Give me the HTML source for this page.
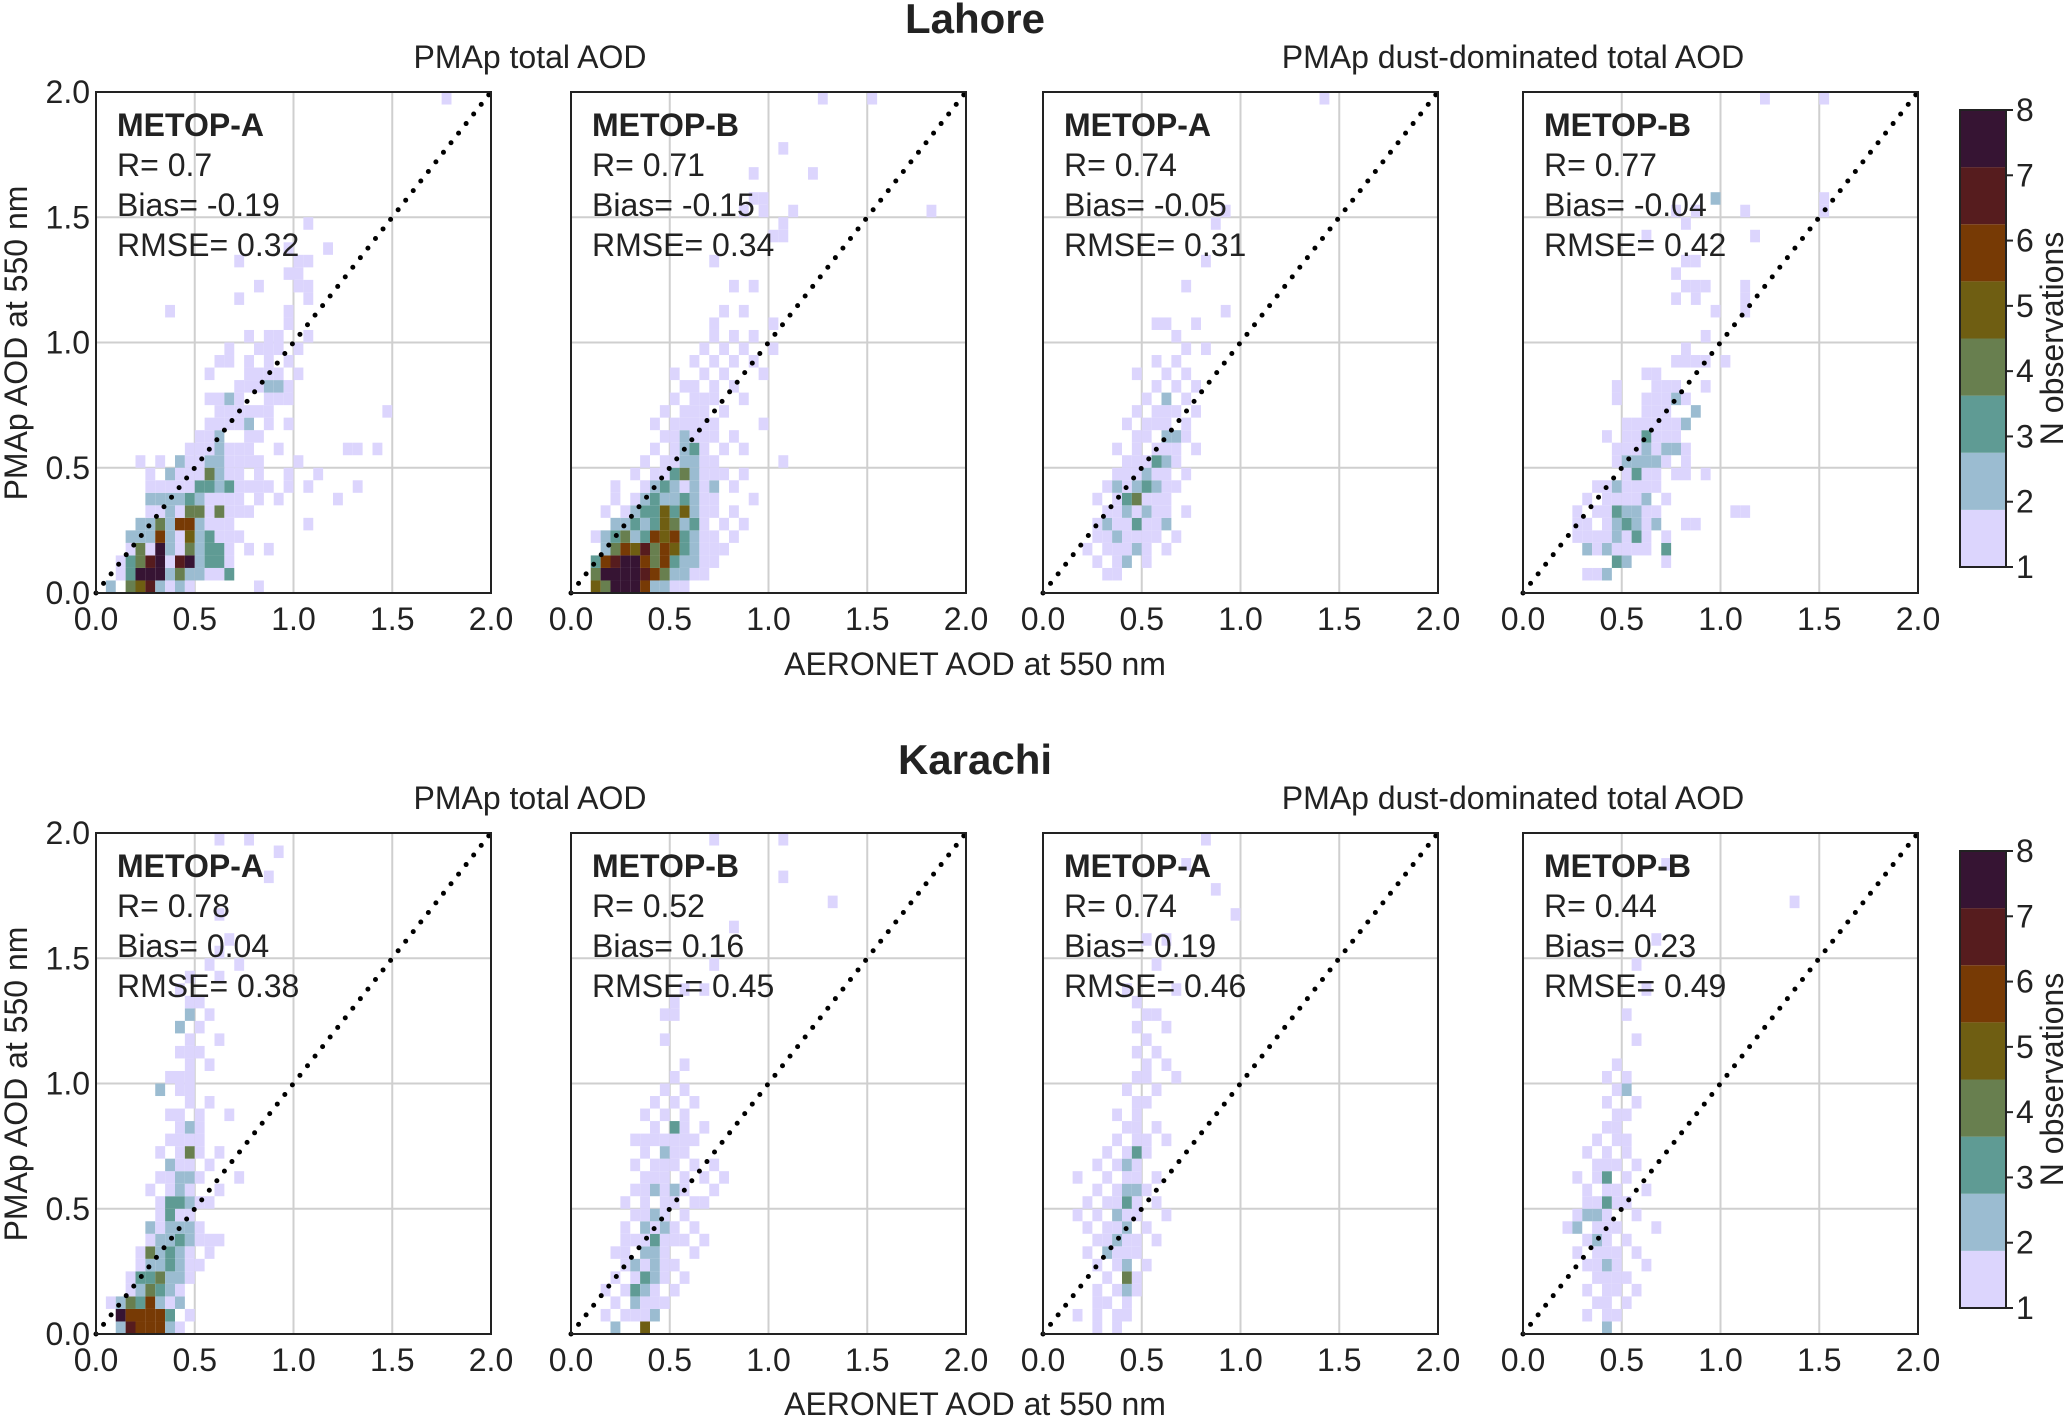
<!DOCTYPE html>
<html><head><meta charset="utf-8">
<style>
html,body{margin:0;padding:0;background:#fff;}
svg{display:block;}
text{font-family:"Liberation Sans",Arial,sans-serif;fill:#222;}
</style></head>
<body>
<svg id="fig" width="2067" height="1417" viewBox="0 0 2067 1417" xmlns="http://www.w3.org/2000/svg">
<rect x="0" y="0" width="2067" height="1417" fill="#fff"/>
<text x="975" y="33" font-size="42" font-weight="bold" text-anchor="middle">Lahore</text>
<text x="530" y="68" font-size="32" text-anchor="middle">PMAp total AOD</text>
<text x="1513" y="68" font-size="32" text-anchor="middle">PMAp dust-dominated total AOD</text>
<text x="975" y="675" font-size="32" text-anchor="middle">AERONET AOD at 550 nm</text>
<text transform="translate(27,343) rotate(-90)" font-size="32" text-anchor="middle">PMAp AOD at 550 nm</text>
<text x="975" y="774" font-size="42" font-weight="bold" text-anchor="middle">Karachi</text>
<text x="530" y="809" font-size="32" text-anchor="middle">PMAp total AOD</text>
<text x="1513" y="809" font-size="32" text-anchor="middle">PMAp dust-dominated total AOD</text>
<text x="975" y="1415" font-size="32" text-anchor="middle">AERONET AOD at 550 nm</text>
<text transform="translate(27,1084) rotate(-90)" font-size="32" text-anchor="middle">PMAp AOD at 550 nm</text>
</svg>
<script>
// ---- data ----
const colors = ["#dcd5fd","#9bbcd1","#5f9b94","#687f4f","#6f5e12","#773a05","#561c1e","#361433"];
const cbTicks = [1,2,3,4,5,6,7,8];
const axisTicks = [0,0.5,1.0,1.5,2.0];
const binSize = 0.05;
const satellites = ["METOP-A","METOP-B","METOP-A","METOP-B"];
const lahoreR = ["0.7","0.71","0.74","0.77"];
const lahoreBias = ["-0.19","-0.15","-0.05","-0.04"];
const lahoreRmse = ["0.32","0.34","0.31","0.42"];
const karachiR = ["0.78","0.52","0.74","0.44"];
const karachiBias = ["0.04","0.16","0.19","0.23"];
const karachiRmse = ["0.38","0.45","0.46","0.49"];
// rows: [ybin, xbin,count, xbin,count, ...]
const lahoreA = [
[0,1,2,3,4,4,5,5,7,6,2,7,1,8,2,9,1,16,1],
[1,2,1,3,3,4,8,5,8,6,8,7,2,8,4,9,2,10,2,11,1,12,1,13,3],
[2,2,1,3,3,4,4,5,7,6,8,7,1,8,7,9,8,10,2,11,3,12,3,13,1],
[3,3,1,4,4,5,1,6,8,7,2,8,1,9,4,10,2,11,3,12,3,13,1,15,1,17,1],
[4,3,2,4,2,5,2,6,6,7,2,8,1,9,5,10,2,11,3,12,1,13,1,14,1],
[5,4,2,5,2,6,4,7,2,8,6,9,6,10,2,11,1,12,1,13,1,21,1],
[6,5,1,6,1,7,2,8,1,9,4,10,4,11,1,12,4,13,1,14,1,15,1],
[7,5,2,6,2,7,2,8,2,9,3,10,2,11,1,12,1,13,1,14,1,16,1,18,1,24,1],
[8,5,1,6,1,7,1,8,1,9,1,10,3,11,3,12,2,13,3,14,1,15,1,16,1,17,1,19,1,21,1,26,1],
[9,5,1,7,2,8,1,9,1,10,1,11,4,12,2,13,1,14,1,16,1,19,1,22,1],
[10,4,1,6,1,8,2,9,1,10,1,11,2,12,2,13,1,14,1,15,1,16,1,20,1],
[11,9,1,10,1,11,1,12,2,13,1,14,1,15,1,18,1,25,1,26,1,28,1],
[12,10,1,11,1,12,2,15,1,16,1],
[13,11,1,12,1,13,1,14,1,15,2,17,1,19,1],
[14,12,1,13,1,14,1,15,1,16,1,17,1,29,1],
[15,11,1,12,1,13,2,14,1,17,1,18,1,19,1],
[16,14,1,15,1,16,1,17,2,18,2,19,1],
[17,11,1,15,1,16,1,17,1,18,1,20,1],
[18,12,1,13,1,15,1,17,1,19,1],
[19,13,1,16,1,17,1,18,1,20,1],
[20,15,1,17,1,18,1,21,1],
[21,19,1],[22,7,1,19,1],[23,14,1,21,1],[24,16,1,20,1,21,1],[25,19,1,20,1],
[26,14,1,20,1,21,1],[27,23,1,19,1],[29,21,1],[39,35,1]
];
const lahoreB = [
[0,2,5,3,4,4,8,5,8,6,8,7,6,8,2,9,2,10,1,11,1],
[1,2,4,3,8,4,8,5,8,6,8,7,7,8,6,9,4,10,2,11,2,12,1,13,1],
[2,2,3,3,6,4,7,5,8,6,8,7,6,8,4,9,6,10,3,11,2,12,2,13,1,14,1],
[3,3,2,4,4,5,6,6,5,7,7,8,4,9,6,10,5,11,3,12,2,13,1,14,1,15,1],
[4,2,1,3,2,4,3,5,4,6,2,7,3,8,6,9,5,10,6,11,3,12,2,13,1,14,1,16,1],
[5,4,2,5,2,6,3,7,2,8,3,9,5,10,4,11,2,12,3,13,1,15,1,17,1],
[6,3,1,5,1,6,2,7,3,8,3,9,5,10,3,11,5,12,2,13,1,14,1,16,1],
[7,4,1,6,1,7,2,8,3,9,2,10,2,11,3,12,2,13,1,14,1,18,1],
[8,4,1,7,1,8,2,9,3,10,2,11,1,12,2,13,1,14,2,16,1],
[9,6,1,8,1,9,1,10,3,11,4,12,2,13,1,14,1,15,1,17,1],
[10,7,1,9,1,10,1,11,2,12,2,13,1,14,1,21,1],
[11,8,1,10,1,11,2,12,3,13,1,15,1,17,1],
[12,9,1,10,1,11,2,12,1,13,1,14,1,16,1],
[13,8,1,10,1,11,1,12,1,13,1,14,1,19,1],
[14,9,1,11,1,12,1,13,1,15,1],
[15,10,1,12,1,13,1,14,1,17,1],
[16,11,1,12,1,14,1,16,1],
[17,10,1,13,1,15,1,19,1],
[18,12,1,14,1,16,1,18,1],
[19,13,1,15,1,17,1,20,1],
[20,14,1,16,1,18,1],
[21,14,1,20,1],[22,15,1,17,1],[24,16,1,18,1],[26,14,1],[28,20,1,21,1],[29,21,1],
[30,17,1,19,1,22,1,36,1],[31,18,1,19,1],[33,18,1,24,1],[35,21,1],[39,25,1,30,1]
];
const lahoreDustA = [
[1,6,1,7,1],
[2,5,1,7,1,8,2,10,1],
[3,4,1,6,1,7,1,8,1,9,2,10,1,12,1],
[4,5,1,6,1,7,2,8,1,9,1,10,1,11,1,13,1],
[5,5,1,6,2,7,1,8,1,9,3,10,1,11,1,12,2],
[6,6,1,7,1,8,2,9,1,10,2,11,1,12,1,14,1],
[7,5,1,7,1,8,3,9,4,10,1,11,1,12,1],
[8,6,1,7,2,8,1,9,2,10,3,11,2,12,1,13,1],
[9,7,1,8,1,9,1,10,2,11,1,12,1,14,1],
[10,8,1,9,1,10,1,11,3,12,2,13,1],
[11,7,1,9,1,11,1,12,1,13,1,15,1],
[12,9,1,10,1,12,2,13,2,14,1],
[13,8,1,10,1,11,1,12,1,14,1],
[14,9,1,11,1,12,1,13,1,15,1],
[15,10,1,12,2,14,1],
[16,11,1,13,1,15,1],
[17,9,1,12,1,14,1],
[18,11,1,13,1],[19,14,1,16,1],[20,13,1],[21,11,1,12,1,15,1],[22,18,1],
[24,14,1],[26,16,1],[29,17,1],[30,18,1],[39,28,1]
];
const lahoreDustB = [
[1,6,1,7,1,8,2],
[2,9,3,10,2,14,1],
[3,6,2,7,1,8,2,9,1,10,1,11,1,12,1,14,3],
[4,5,1,6,1,7,1,8,1,9,2,10,1,11,3,12,1,14,1],
[5,5,1,6,1,8,1,9,2,10,3,11,2,12,1,13,2,16,1,17,1],
[6,5,1,7,1,8,1,9,3,10,2,11,2,12,1,13,1,21,1,22,1],
[7,6,1,8,1,9,1,10,1,11,1,12,2,14,1],
[8,7,1,8,1,9,2,10,1,11,1,12,1,13,1],
[9,10,1,11,3,12,1,13,1,15,1,16,1,18,1],
[10,9,1,10,2,11,2,12,2,13,2,14,1,16,1],
[11,9,1,10,1,11,1,12,2,13,1,14,2,15,2,16,1],
[12,8,1,10,1,11,1,12,3,13,1,14,1,15,1],
[13,10,1,11,1,12,1,13,1,14,1,15,1,16,2],
[14,12,1,13,1,14,1,17,2],
[15,9,1,12,1,13,1,14,1,15,2,16,1],
[16,9,1,13,1,14,1,15,1,18,1],
[17,12,1,13,1],
[18,15,1,16,1,17,1,18,1,20,1],
[19,16,1],[20,18,1],[22,19,1,22,1],[23,15,1,17,1,22,1],[24,16,1,17,1,18,1,22,1],
[25,15,1],[26,16,1,17,1],[28,12,1,23,1],[29,16,1],[30,15,1,17,1,22,1,30,1],
[31,19,2,30,1],[39,24,1,30,1]
];
const karachiA = [
[0,2,2,3,7,4,6,5,6,6,6,7,2,8,1],
[1,2,8,3,6,4,6,5,6,6,6,7,3,9,1],
[2,1,1,2,2,3,4,4,3,5,6,6,2,7,1,8,2],
[3,3,1,4,2,5,4,6,3,7,2,8,1],
[4,3,1,4,3,5,3,6,4,7,2,8,2,9,1],
[5,4,1,5,2,6,2,7,3,8,2,9,1,10,1],
[6,4,1,5,4,6,2,7,3,8,2,9,1,11,1],
[7,5,1,6,2,7,2,8,3,9,2,10,1,11,1,12,1],
[8,5,2,6,1,7,2,8,2,9,2,10,1],
[9,6,1,7,3,8,1,9,1],
[10,6,1,7,3,8,3,9,2,10,1,11,1],
[11,5,1,7,1,8,2,9,1,12,1],
[12,6,1,7,1,8,2,9,2,10,1,14,1],
[13,7,2,8,1,9,1,11,1],
[14,6,1,8,1,9,4,10,1,12,1],
[15,7,1,8,1,9,1,10,1],
[16,8,1,9,2,10,1],
[17,7,1,8,1,10,1,13,1],
[18,9,1,11,1],[19,6,2,8,1,9,1],[20,7,1,8,1,9,1],[21,9,1,11,1],[22,8,1,9,1,10,1],
[23,9,1,12,1],[24,8,2,10,1],[25,9,2,11,1],[26,9,1,10,1],[27,8,1],[28,9,1,12,1],
[29,11,1,14,1],[30,12,1],[31,13,1],[33,12,1],[36,17,1],[38,18,1],[39,12,1,15,1]
];
const karachiB = [
[0,4,2,7,5],
[1,3,1,5,1,6,1,7,1,8,2],
[2,4,1,6,2,7,1,8,1,9,1],
[3,3,1,5,1,6,3,7,2,8,1,10,1],
[4,4,1,6,1,7,3,8,2,9,1,11,1],
[5,5,1,6,2,7,1,8,2,9,1,10,1],
[6,4,1,5,1,7,2,8,2,9,1,12,1],
[7,5,1,6,1,7,1,8,3,9,1,10,1,11,1,13,1],
[8,5,1,7,2,8,1,9,2,10,1,12,1],
[9,6,1,7,1,8,2,9,1,11,1],
[10,5,1,7,1,9,1,10,1,12,1,13,1],
[11,6,1,7,1,8,2,9,1,10,2,11,1,14,1],
[12,7,1,8,1,9,1,11,1,13,1,15,1],
[13,6,1,8,1,9,1,10,1,12,1,14,1],
[14,7,1,9,2,10,1,11,1],
[15,6,1,7,1,8,1,9,1,10,1,11,1,12,1],
[16,8,1,10,3,11,1,13,1],
[17,7,1,9,1,11,1],[18,8,1,10,1,12,1],[19,9,1,11,1],[20,10,1],[21,11,1],[23,9,1],
[25,9,1,10,1],[26,10,1],[27,11,1,13,1],[29,14,1],[32,16,1],[34,26,1],[36,21,1],[39,14,1,21,1]
];
const karachiDustA = [
[0,5,1,7,1],
[1,3,1,5,1,7,1,8,1],
[2,5,1,6,1,8,1],
[3,5,1,7,1,8,2,9,1],
[4,6,1,8,4,9,1],
[5,5,1,7,1,8,2,10,1],
[6,4,1,6,2,7,1,8,1,9,1],
[7,5,1,6,1,7,2,8,1,9,1,11,1],
[8,4,1,6,1,7,1,8,2,10,1],
[9,3,1,5,1,7,2,8,1,9,1,12,1],
[10,4,1,6,1,7,1,8,3,9,1,11,1],
[11,5,1,7,1,8,2,9,2,10,1],
[12,3,1,6,1,8,1,9,1,11,1],
[13,5,1,7,1,8,2,9,1],
[14,6,1,8,1,9,3,10,1],
[15,7,1,9,1,10,1,12,1],
[16,8,1,9,1,11,1],
[17,7,1,9,1],[18,9,1,10,1],[19,8,1,11,1],[20,9,1,10,1,13,1],[21,10,1,12,1],
[22,9,1,11,1],[23,10,1],[24,9,1,12,1],[25,10,1,11,1],[26,9,1],[27,8,1,13,1],
[29,11,1],[31,10,1,12,1],[33,19,1],[35,17,1],[37,14,1],[39,16,1]
];
const karachiDustB = [
[0,8,2],
[1,6,1,8,1,9,1],
[2,7,1,8,1,10,1],
[3,6,1,8,1,9,1,11,1],
[4,7,1,8,1,9,1,10,1],
[5,6,1,7,1,8,2,9,1,12,1],
[6,5,1,7,1,8,1,9,1,11,1],
[7,6,1,7,2,8,1,10,1],
[8,4,1,5,2,7,1,8,1,9,1,13,1],
[9,5,1,6,2,7,2,8,1,11,1],
[10,6,1,7,1,8,3,9,1,10,1],
[11,6,1,8,1,9,1,12,1],
[12,5,1,7,1,8,3,10,1],
[13,7,1,8,1,9,1,11,1],
[14,6,1,8,1,10,1],
[15,7,1,9,1,10,1],
[16,8,1,9,1],[17,9,1,10,1],[18,8,1,11,1],[19,9,1,10,2],[20,8,1,10,1],[21,9,1],
[23,11,1],[25,10,1],[27,12,1],[29,11,1],[31,13,1],[34,27,1],[37,14,1]
];
// ---- drawing ----
const NS = "http://www.w3.org/2000/svg";
const svg = document.getElementById('fig');
const panelLefts = [96, 571, 1043, 1523];
const rowTops = [92, 833];
const PW = 395, PH = 501;
function mk(tag, attrs, parent){
  const e = document.createElementNS(NS, tag);
  for (const k in attrs) e.setAttribute(k, attrs[k]);
  (parent||svg).appendChild(e);
  return e;
}
function drawPanel(left, top, rows, sat, r, bias, rmse, showY, key){
  const g = mk('g', {});
  
  
  const sx = v => left + v / 2 * PW;
  const sy = v => top + PH - v / 2 * PH;
  for (const t of axisTicks.slice(1, 4)) {
    const gl = mk('line', {x1: sx(t), x2: sx(t), y1: top, y2: top + PH, stroke: '#cfcfcf', 'stroke-width': 2}, g);
    
    
    const gh = mk('line', {x1: left, x2: left + PW, y1: sy(t), y2: sy(t), stroke: '#cfcfcf', 'stroke-width': 2}, g);
    
    
  }
  for (const row of rows) {
    const j = row[0];
    for (let k = 1; k < row.length; k += 2) {
      const i = row[k], n = row[k + 1];
      const x0 = i * binSize, y0 = j * binSize;
      const c = mk('rect', {x: sx(x0), y: sy(y0 + binSize), width: sx(x0 + binSize) - sx(x0), height: sy(y0) - sy(y0 + binSize), fill: colors[Math.min(n, 8) - 1]}, g);
      
      
    }
  }
  const d = mk('line', {x1: sx(0), y1: sy(0), x2: sx(2), y2: sy(2), stroke: '#000', 'stroke-width': 5, 'stroke-linecap': 'round', 'stroke-dasharray': '0 12.2'}, g);
  
  
  const f = mk('rect', {x: left, y: top, width: PW, height: PH, fill: 'none', stroke: '#222', 'stroke-width': 2}, g);
  
  
  for (const t of axisTicks) {
    const tx = mk('text', {x: sx(t), y: top + PH + 37, 'font-size': 32, 'text-anchor': 'middle'}, g);
    
    
    tx.textContent = t.toFixed(1);
    if (showY) {
      const ty = mk('text', {x: left - 6, y: sy(t) + 11, 'font-size': 32, 'text-anchor': 'end'}, g);
      
      
      ty.textContent = t.toFixed(1);
    }
  }
  const lines = [[sat, true], ['R= ' + r, false], ['Bias= ' + bias, false], ['RMSE= ' + rmse, false]];
  const names = ['satellite-label', 'r-stat', 'bias-stat', 'rmse-stat'];
  lines.forEach((ln, idx) => {
    const t = mk('text', {x: left + 21, y: top + 44 + idx * 40, 'font-size': 32, 'font-weight': ln[1] ? 'bold' : 'normal'}, g);
    
    
    t.textContent = ln[0];
  });
}
const lahoreData = [lahoreA, lahoreB, lahoreDustA, lahoreDustB];
const karachiData = [karachiA, karachiB, karachiDustA, karachiDustB];
const keys = ['total-metop-a', 'total-metop-b', 'dust-metop-a', 'dust-metop-b'];
for (let p = 0; p < 4; p++) {
  drawPanel(panelLefts[p], rowTops[0], lahoreData[p], satellites[p], lahoreR[p], lahoreBias[p], lahoreRmse[p], p === 0, 'lahore-' + keys[p]);
  drawPanel(panelLefts[p], rowTops[1], karachiData[p], satellites[p], karachiR[p], karachiBias[p], karachiRmse[p], p === 0, 'karachi-' + keys[p]);
}
const cbTops = [110, 851];
cbTops.forEach((ct, ri) => {
  const g = mk('g', {});
  
  
  const cx = 1960, cw = 46, ch = 457;
  const cy = v => ct + ch - (v - 1) / 7 * ch;
  for (let k = 0; k < 8; k++) {
    const lo = 1 + k * 7 / 8, hi = 1 + (k + 1) * 7 / 8;
    const r = mk('rect', {x: cx, y: cy(hi), width: cw, height: cy(lo) - cy(hi), fill: colors[k]}, g);
    
    
  }
  const fr = mk('rect', {x: cx, y: ct, width: cw, height: ch, fill: 'none', stroke: '#222', 'stroke-width': 2}, g);
  
  
  for (const t of cbTicks) {
    const tl = mk('line', {x1: cx + cw, x2: cx + cw + 7, y1: cy(t), y2: cy(t), stroke: '#222', 'stroke-width': 2}, g);
    
    
    const tx = mk('text', {x: cx + cw + 10, y: cy(t) + 11, 'font-size': 32}, g);
    
    
    tx.textContent = t;
  }
  const lb = mk('text', {transform: 'translate(2063,' + (ct + ch / 2) + ') rotate(-90)', 'font-size': 32, 'text-anchor': 'middle'}, g);
  
  
  lb.textContent = 'N observations';
});
</script>
</body></html>
